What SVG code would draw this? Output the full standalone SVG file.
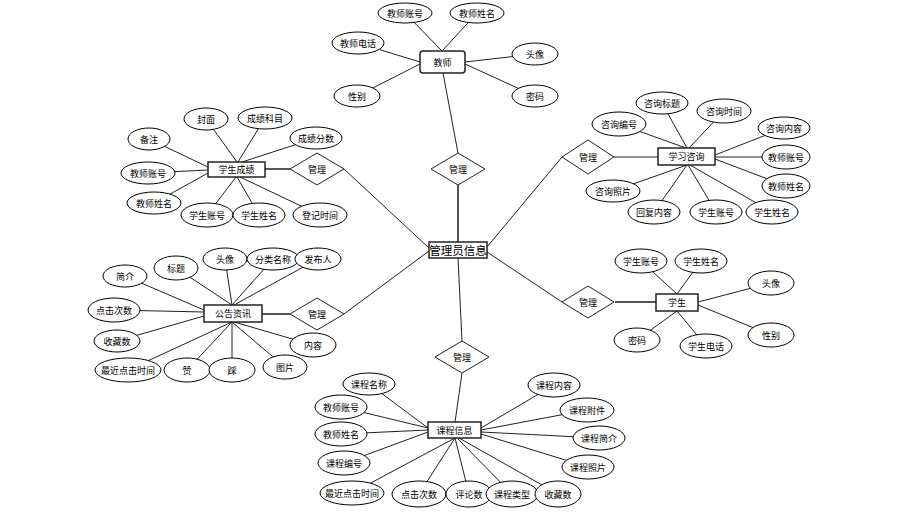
<svg xmlns="http://www.w3.org/2000/svg" width="916" height="515" viewBox="0 0 916 515">
<style>
.bg{fill:#fff}
.c line{stroke:#222;stroke-width:1}
.c line.k{stroke:#555;stroke-width:2}
ellipse{fill:#fff;stroke:#000;stroke-width:1}
.box{fill:#fff;stroke:#222;stroke-width:1.5}
.dia{fill:#fff;stroke:#222;stroke-width:1}
text{font-family:"Noto Sans CJK SC","Noto Sans",sans-serif;font-size:9px;fill:#000;text-anchor:middle;dominant-baseline:central}
text.big{font-size:11.5px}
</style>
<rect class="bg" width="916" height="515"/>
<g id="connectors" class="c">
<line x1="442" y1="51" x2="405" y2="13"/>
<line x1="442" y1="51" x2="477" y2="13"/>
<line x1="420" y1="62" x2="358" y2="43"/>
<line x1="420" y1="64" x2="357" y2="96"/>
<line x1="465" y1="62" x2="535" y2="54"/>
<line x1="465" y1="64" x2="535" y2="96"/>
<line x1="443" y1="73" x2="458" y2="153"/>
<line class="k" x1="458" y1="185" x2="458" y2="242"/>
<line x1="344" y1="169" x2="429" y2="248"/>
<line x1="344" y1="314" x2="429" y2="251"/>
<line x1="462" y1="341" x2="458" y2="258"/>
<line x1="562" y1="157" x2="487" y2="247"/>
<line x1="562" y1="302" x2="487" y2="252"/>
<line class="k" x1="265" y1="169" x2="290" y2="169"/>
<line x1="237" y1="162" x2="206" y2="119"/>
<line x1="238" y1="162" x2="265" y2="118"/>
<line x1="242" y1="162" x2="316" y2="138"/>
<line x1="208" y1="167" x2="149" y2="139"/>
<line x1="208" y1="170" x2="148" y2="173"/>
<line x1="208" y1="173" x2="154" y2="203"/>
<line x1="236" y1="177" x2="207" y2="215"/>
<line x1="237" y1="177" x2="259" y2="215"/>
<line x1="240" y1="177" x2="320" y2="215"/>
<line x1="613" y1="157" x2="658" y2="157"/>
<line x1="686" y1="148" x2="619" y2="124"/>
<line x1="687" y1="148" x2="662" y2="103"/>
<line x1="689" y1="148" x2="724" y2="111"/>
<line x1="715" y1="155" x2="784" y2="128"/>
<line x1="715" y1="157" x2="786" y2="157"/>
<line x1="715" y1="159" x2="786" y2="186"/>
<line x1="687" y1="165" x2="613" y2="191"/>
<line x1="687" y1="165" x2="654" y2="212"/>
<line x1="688" y1="165" x2="716" y2="212"/>
<line x1="690" y1="165" x2="772" y2="212"/>
<line class="k" x1="262" y1="314" x2="290" y2="314"/>
<line x1="204" y1="310" x2="125" y2="276"/>
<line x1="232" y1="305" x2="176" y2="268"/>
<line x1="232" y1="305" x2="225" y2="259"/>
<line x1="232" y1="305" x2="273" y2="259"/>
<line x1="234" y1="305" x2="318" y2="259"/>
<line x1="204" y1="312" x2="114" y2="310"/>
<line x1="204" y1="316" x2="117" y2="341"/>
<line x1="232" y1="322" x2="128" y2="370"/>
<line x1="232" y1="322" x2="187" y2="370"/>
<line x1="232" y1="322" x2="232" y2="370"/>
<line x1="232" y1="322" x2="285" y2="367"/>
<line x1="234" y1="322" x2="313" y2="345"/>
<line class="k" x1="615" y1="302" x2="656" y2="302"/>
<line x1="677" y1="294" x2="641" y2="261"/>
<line x1="677" y1="294" x2="701" y2="261"/>
<line x1="698" y1="302" x2="771" y2="283"/>
<line x1="698" y1="305" x2="771" y2="335"/>
<line x1="677" y1="311" x2="637" y2="340"/>
<line x1="677" y1="311" x2="706" y2="346"/>
<line x1="462" y1="373" x2="455" y2="422"/>
<line x1="428" y1="428" x2="369" y2="384"/>
<line x1="428" y1="428" x2="341" y2="407"/>
<line x1="428" y1="430" x2="341" y2="434"/>
<line x1="428" y1="432" x2="344" y2="463"/>
<line x1="455" y1="438" x2="352" y2="493"/>
<line x1="455" y1="438" x2="419" y2="494"/>
<line x1="455" y1="438" x2="469" y2="494"/>
<line x1="457" y1="438" x2="512" y2="494"/>
<line x1="459" y1="438" x2="558" y2="494"/>
<line x1="481" y1="428" x2="554" y2="385"/>
<line x1="481" y1="430" x2="587" y2="410"/>
<line x1="481" y1="432" x2="599" y2="438"/>
<line x1="481" y1="434" x2="588" y2="467"/>
</g>

<g id="rel-teacher"><polygon class="dia" points="458,153 485,169 458,185 431,169"/><text x="458" y="169">管理</text></g>
<g id="rel-grades"><polygon class="dia" points="317,153 344,169 317,185 290,169"/><text x="317" y="169">管理</text></g>
<g id="rel-notice"><polygon class="dia" points="317,298 344,314 317,330 290,314"/><text x="317" y="314">管理</text></g>
<g id="rel-course"><polygon class="dia" points="462,341 489,357 462,373 435,357"/><text x="462" y="357">管理</text></g>
<g id="rel-consult"><polygon class="dia" points="588,140 614,157 588,174 562,157"/><text x="588" y="157">管理</text></g>
<g id="rel-student"><polygon class="dia" points="588,286 614,302 588,318 562,302"/><text x="588" y="302">管理</text></g>

<g id="admin"><rect class="box" x="429" y="242" width="58" height="16"/><text class="big" x="458" y="250">管理员信息</text></g>
<g id="teacher"><rect class="box" x="420" y="51" width="45" height="22" rx="3"/><text x="442.5" y="62">教师</text></g>
<g id="grades"><rect class="box" x="208" y="162" width="57" height="15"/><text x="236.5" y="169.5">学生成绩</text></g>
<g id="consult"><rect class="box" x="658" y="148" width="57" height="17"/><text x="686.5" y="156.5">学习咨询</text></g>
<g id="notice"><rect class="box" x="204" y="305" width="58" height="17"/><text x="233" y="313.5">公告资讯</text></g>
<g id="student"><rect class="box" x="656" y="294" width="42" height="17"/><text x="677" y="302.5">学生</text></g>
<g id="course"><rect class="box" x="428" y="422" width="53" height="16"/><text x="454.5" y="430">课程信息</text></g>

<g id="t-account"><ellipse cx="405" cy="13" rx="27" ry="10"/><text x="405" y="13">教师账号</text></g>
<g id="t-name"><ellipse cx="477" cy="13" rx="27" ry="10"/><text x="477" y="13">教师姓名</text></g>
<g id="t-phone"><ellipse cx="358" cy="43" rx="26" ry="11"/><text x="358" y="43">教师电话</text></g>
<g id="t-avatar"><ellipse cx="535" cy="54" rx="23" ry="11"/><text x="535" y="54">头像</text></g>
<g id="t-gender"><ellipse cx="357" cy="96" rx="23" ry="11"/><text x="357" y="96">性别</text></g>
<g id="t-pwd"><ellipse cx="535" cy="96" rx="23" ry="11"/><text x="535" y="96">密码</text></g>

<g id="g-remark"><ellipse cx="149" cy="139" rx="21" ry="11"/><text x="149" y="139">备注</text></g>
<g id="g-cover"><ellipse cx="206" cy="119" rx="22" ry="11"/><text x="206" y="119">封面</text></g>
<g id="g-subject"><ellipse cx="265" cy="118" rx="27" ry="11"/><text x="265" y="118">成绩科目</text></g>
<g id="g-score"><ellipse cx="316" cy="138" rx="26" ry="11"/><text x="316" y="138">成绩分数</text></g>
<g id="g-taccount"><ellipse cx="148" cy="173" rx="27" ry="11"/><text x="148" y="173">教师账号</text></g>
<g id="g-tname"><ellipse cx="154" cy="203" rx="27" ry="11"/><text x="154" y="203">教师姓名</text></g>
<g id="g-saccount"><ellipse cx="207" cy="215" rx="26" ry="12"/><text x="207" y="215">学生账号</text></g>
<g id="g-sname"><ellipse cx="259" cy="215" rx="26" ry="12"/><text x="259" y="215">学生姓名</text></g>
<g id="g-time"><ellipse cx="320" cy="215" rx="27" ry="12"/><text x="320" y="215">登记时间</text></g>

<g id="c-no"><ellipse cx="619" cy="124" rx="27" ry="12"/><text x="619" y="124">咨询编号</text></g>
<g id="c-title"><ellipse cx="662" cy="103" rx="26" ry="11"/><text x="662" y="103">咨询标题</text></g>
<g id="c-time"><ellipse cx="724" cy="111" rx="27" ry="12"/><text x="724" y="111">咨询时间</text></g>
<g id="c-content"><ellipse cx="784" cy="128" rx="26" ry="11"/><text x="784" y="128">咨询内容</text></g>
<g id="c-taccount"><ellipse cx="786" cy="157" rx="24" ry="12"/><text x="786" y="157">教师账号</text></g>
<g id="c-tname"><ellipse cx="786" cy="186" rx="24" ry="12"/><text x="786" y="186">教师姓名</text></g>
<g id="c-photo"><ellipse cx="613" cy="191" rx="27" ry="11"/><text x="613" y="191">咨询照片</text></g>
<g id="c-reply"><ellipse cx="654" cy="212" rx="26" ry="12"/><text x="654" y="212">回复内容</text></g>
<g id="c-saccount"><ellipse cx="716" cy="212" rx="26" ry="12"/><text x="716" y="212">学生账号</text></g>
<g id="c-sname"><ellipse cx="772" cy="212" rx="26" ry="12"/><text x="772" y="212">学生姓名</text></g>

<g id="n-intro"><ellipse cx="125" cy="276" rx="22" ry="11"/><text x="125" y="276">简介</text></g>
<g id="n-title"><ellipse cx="176" cy="268" rx="22" ry="12"/><text x="176" y="268">标题</text></g>
<g id="n-avatar"><ellipse cx="225" cy="259" rx="22" ry="11"/><text x="225" y="259">头像</text></g>
<g id="n-cat"><ellipse cx="273" cy="259" rx="26" ry="11"/><text x="273" y="259">分类名称</text></g>
<g id="n-pub"><ellipse cx="318" cy="259" rx="23" ry="11"/><text x="318" y="259">发布人</text></g>
<g id="n-clicks"><ellipse cx="114" cy="310" rx="26" ry="12"/><text x="114" y="310">点击次数</text></g>
<g id="n-fav"><ellipse cx="117" cy="341" rx="23" ry="11"/><text x="117" y="341">收藏数</text></g>
<g id="n-last"><ellipse cx="128" cy="370" rx="33" ry="12"/><text x="128" y="370">最近点击时间</text></g>
<g id="n-up"><ellipse cx="187" cy="370" rx="23" ry="12"/><text x="187" y="370">赞</text></g>
<g id="n-down"><ellipse cx="232" cy="370" rx="23" ry="12"/><text x="232" y="370">踩</text></g>
<g id="n-img"><ellipse cx="285" cy="367" rx="22" ry="12"/><text x="285" y="367">图片</text></g>
<g id="n-content"><ellipse cx="313" cy="345" rx="23" ry="12"/><text x="313" y="345">内容</text></g>

<g id="s-account"><ellipse cx="641" cy="261" rx="26" ry="12"/><text x="641" y="261">学生账号</text></g>
<g id="s-name"><ellipse cx="701" cy="261" rx="26" ry="12"/><text x="701" y="261">学生姓名</text></g>
<g id="s-avatar"><ellipse cx="771" cy="283" rx="23" ry="12"/><text x="771" y="283">头像</text></g>
<g id="s-gender"><ellipse cx="771" cy="335" rx="23" ry="12"/><text x="771" y="335">性别</text></g>
<g id="s-pwd"><ellipse cx="637" cy="340" rx="23" ry="12"/><text x="637" y="340">密码</text></g>
<g id="s-phone"><ellipse cx="706" cy="346" rx="26" ry="12"/><text x="706" y="346">学生电话</text></g>

<g id="k-name"><ellipse cx="369" cy="384" rx="26" ry="11"/><text x="369" y="384">课程名称</text></g>
<g id="k-taccount"><ellipse cx="341" cy="407" rx="26" ry="12"/><text x="341" y="407">教师账号</text></g>
<g id="k-tname"><ellipse cx="341" cy="434" rx="26" ry="12"/><text x="341" y="434">教师姓名</text></g>
<g id="k-no"><ellipse cx="344" cy="463" rx="26" ry="12"/><text x="344" y="463">课程编号</text></g>
<g id="k-last"><ellipse cx="352" cy="493" rx="32" ry="12"/><text x="352" y="493">最近点击时间</text></g>
<g id="k-clicks"><ellipse cx="419" cy="494" rx="27" ry="13"/><text x="419" y="494">点击次数</text></g>
<g id="k-comments"><ellipse cx="469" cy="494" rx="23" ry="13"/><text x="469" y="494">评论数</text></g>
<g id="k-type"><ellipse cx="512" cy="494" rx="26" ry="13"/><text x="512" y="494">课程类型</text></g>
<g id="k-fav"><ellipse cx="558" cy="494" rx="23" ry="13"/><text x="558" y="494">收藏数</text></g>
<g id="k-content"><ellipse cx="554" cy="385" rx="26" ry="12"/><text x="554" y="385">课程内容</text></g>
<g id="k-attach"><ellipse cx="587" cy="410" rx="27" ry="12"/><text x="587" y="410">课程附件</text></g>
<g id="k-intro"><ellipse cx="599" cy="438" rx="26" ry="12"/><text x="599" y="438">课程简介</text></g>
<g id="k-photo"><ellipse cx="588" cy="467" rx="26" ry="12"/><text x="588" y="467">课程照片</text></g>
</svg>
